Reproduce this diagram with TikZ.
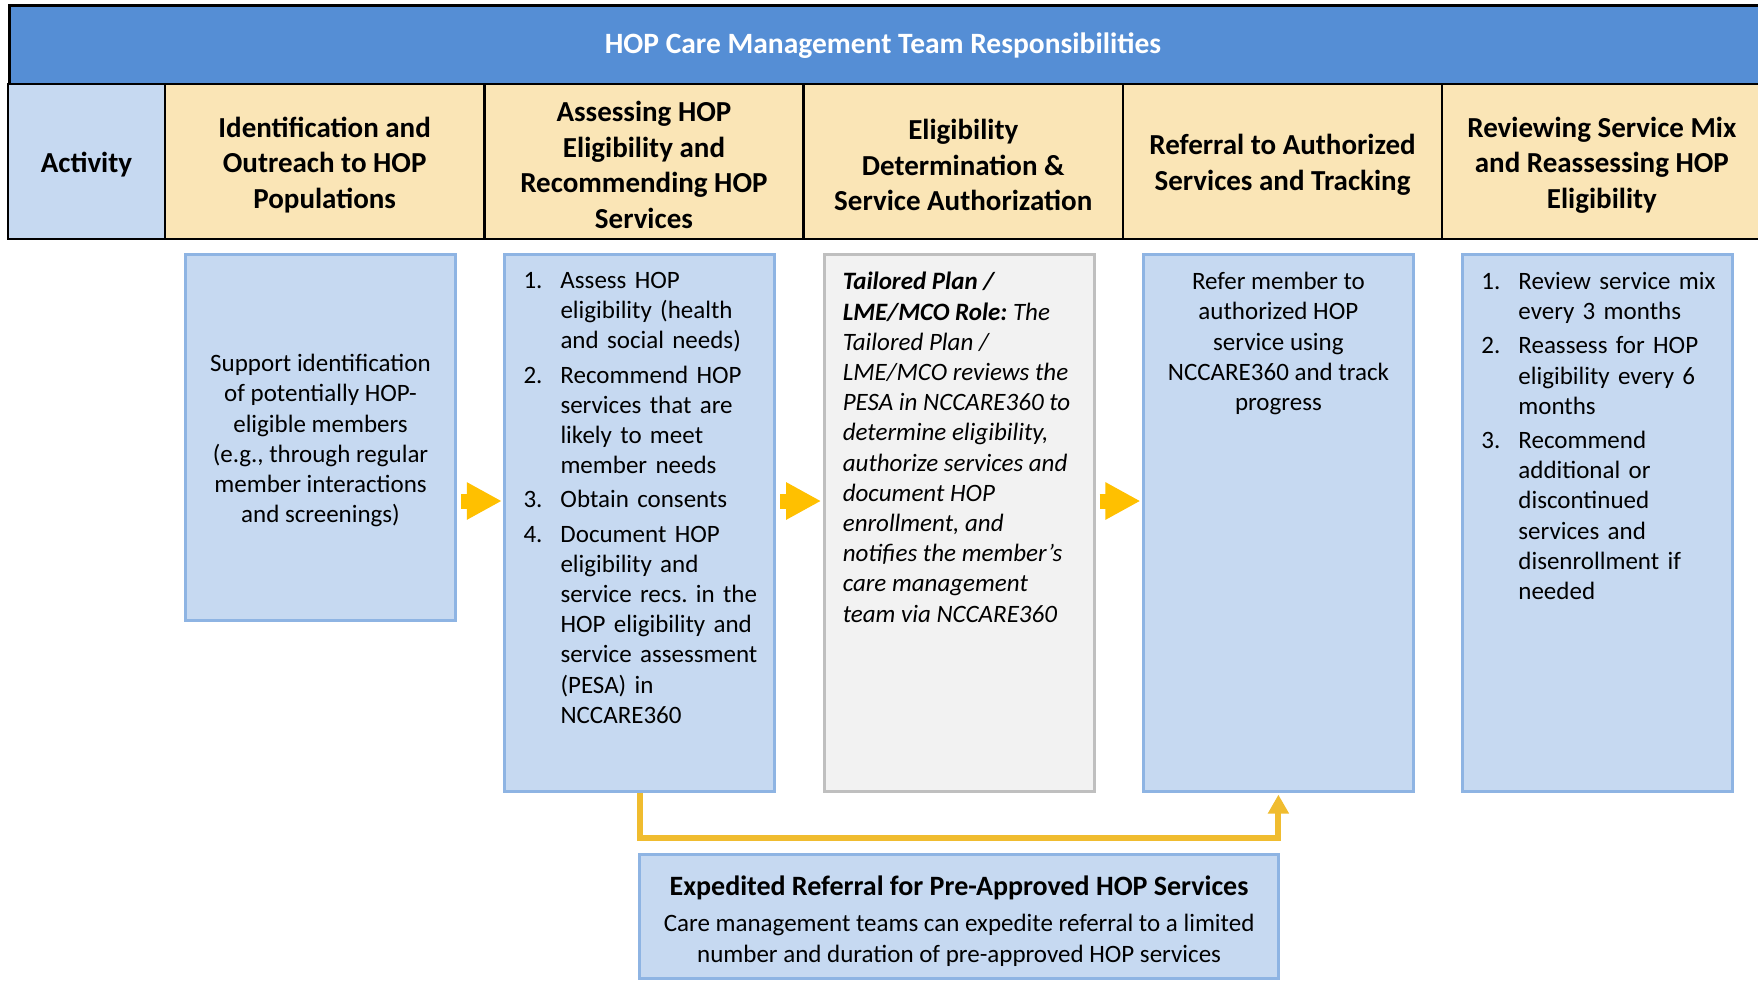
\documentclass[tikz,border=0pt]{standalone}
\usepackage{fontspec}
\setmainfont{Carlito}
\usetikzlibrary{arrows.meta,calc}
\definecolor{titleblue}{HTML}{558ED5}
\definecolor{lightblue}{HTML}{C6D9F1}
\definecolor{boxborder}{HTML}{8EB4E3}
\definecolor{hdryellow}{HTML}{FAE5B6}
\definecolor{graybox}{HTML}{F2F2F2}
\definecolor{grayborder}{HTML}{BFBFBF}
\definecolor{arrowyellow}{HTML}{FFC000}
\definecolor{elbowyellow}{HTML}{F0BC2F}
\newcommand{\hdrfont}{\fontsize{29}{35.5}\selectfont\bfseries}
\newcommand{\bodyfont}{\fontsize{25}{30.2}\selectfont\frenchspacing}
\newcommand{\litem}[2]{\noindent\hangindent=37pt\hangafter=1\makebox[37pt][l]{#1}#2\par\vspace{4pt}}
\tikzset{
  hdrcell/.style={draw=black, line width=2.5pt, fill=hdryellow, minimum width=319.3pt, minimum height=155pt, inner sep=0pt},
  actcell/.style={draw=black, line width=2.5pt, fill=lightblue, minimum width=157pt, minimum height=155pt, inner sep=0pt},
  hdrtext/.style={inner sep=0pt, align=center, font=\hdrfont},
  bluebox/.style={draw=boxborder, line width=3pt, fill=lightblue, minimum width=270pt, inner sep=0pt},
  greybox/.style={draw=grayborder, line width=3pt, fill=graybox, minimum width=270pt, inner sep=0pt},
  bodytext/.style={inner sep=0pt, font=\bodyfont},
  blockarrow/.style={draw=arrowyellow, line width=15pt, -{Triangle[length=35pt,width=35pt]}},
  elbow/.style={draw=elbowyellow, line width=6pt, -{Triangle[length=19pt,width=20pt]}}
}
\begin{document}
\begin{tikzpicture}[x=1pt,y=-1pt]
\clip (0,0) rectangle (1758,980);
\fill[white] (0,0) rectangle (1758,980);
% title bar
\node[draw=black, line width=2.5pt, fill=titleblue, minimum width=1770pt, minimum height=80pt, inner sep=0pt, anchor=north west] (title) at (8,4) {};
\node[inner sep=0pt, text=white, font=\fontsize{29.5}{34}\selectfont\bfseries] (titlelabel) at (883,46) {HOP Care Management Team Responsibilities};
% header row
\node[actcell] (act) at (86.5,161.5) {};
\node[hdrcell] (h1) at (324.65,161.5) {};
\node[hdrcell] (h2) at (643.95,161.5) {};
\node[hdrcell] (h3) at (963.25,161.5) {};
\node[hdrcell] (h4) at (1282.55,161.5) {};
\node[hdrcell] (h5) at (1601.85,161.5) {};
\node[hdrtext] (actl) at ($(act.center)+(0,3.5)$) {Activity};
\node[hdrtext] (h1l) at ($(h1.center)+(0,3.5)$) {Identification and\\Outreach to HOP\\Populations};
\node[hdrtext] (h2l) at ($(h2.center)+(0,3.5)$) {Assessing HOP\\Eligibility and\\Recommending HOP\\Services};
\node[hdrtext] (h3l) at ($(h3.center)+(0,3.5)$) {Eligibility\\Determination \&\\Service Authorization};
\node[hdrtext] (h4l) at ($(h4.center)+(0,3.5)$) {Referral to Authorized\\Services and Tracking};
\node[hdrtext] (h5l) at ($(h5.center)+(0,3.5)$) {Reviewing Service Mix\\and Reassessing HOP\\Eligibility};
% boxes
\node[bluebox, minimum height=365.5pt] (b1) at (320.5,437.25) {};
\node[bluebox, minimum height=537pt] (b2) at (639.8,523.1) {};
\node[greybox, minimum height=537pt] (b3) at (959.1,523.1) {};
\node[bluebox, minimum height=537pt] (b4) at (1278.4,523.1) {};
\node[bluebox, minimum height=537pt] (b5) at (1597.7,523.1) {};
\node[bluebox, minimum width=638.6pt, minimum height=124pt] (b6) at (959.1,916) {};
% box texts
\node[bodytext, align=center] (t1) at ($(b1.center)+(0,3.5)$) {Support identification\\of potentially HOP-\\eligible members\\(e.g., through regular\\member interactions\\and screenings)};
\node[bodytext, anchor=north west, text width=250pt, align=left] (t2) at ($(b2.north west)+(20,19)$) {%
\litem{1.}{Assess HOP\newline eligibility (health\newline and social needs)}%
\litem{2.}{Recommend HOP\newline services that are\newline likely to meet\newline member needs}%
\litem{3.}{Obtain consents}%
\litem{4.}{Document HOP\newline eligibility and\newline service recs. in the\newline HOP eligibility and\newline service assessment\newline (PESA) in\newline NCCARE360}};
\node[bodytext, anchor=north west, align=left, font=\bodyfont\itshape] (t3) at ($(b3.north west)+(20,19)$) {\textbf{Tailored Plan /}\\\textbf{LME/MCO Role:} The\\Tailored Plan /\\LME/MCO reviews the\\PESA in NCCARE360 to\\determine eligibility,\\authorize services and\\document HOP\\enrollment, and\\notifies the member’s\\care management\\team via NCCARE360};
\node[bodytext, anchor=north, align=center] (t4) at ($(b4.north)+(0,19)$) {Refer member to\\authorized HOP\\service using\\NCCARE360 and track\\progress};
\node[bodytext, anchor=north west, text width=250pt, align=left] (t5) at ($(b5.north west)+(20,19)$) {%
\litem{1.}{Review service mix\newline every 3 months}%
\litem{2.}{Reassess for HOP\newline eligibility every 6\newline months}%
\litem{3.}{Recommend\newline additional or\newline discontinued\newline services and\newline disenrollment if\newline needed}};
\node[bodytext, align=center] (t6) at ($(b6.center)+(0,5)$) {{\fontsize{28}{32}\selectfont\bfseries Expedited Referral for Pre-Approved HOP Services}\\[6pt]Care management teams can expedite referral to a limited\\number and duration of pre-approved HOP services};
% arrows
\coordinate (ay) at (0,501);
\draw[blockarrow] ([xshift=4pt]b1.east |- ay) -- ([xshift=-1.5pt]b2.west |- ay);
\draw[blockarrow] ([xshift=4pt]b2.east |- ay) -- ([xshift=-1.5pt]b3.west |- ay);
\draw[blockarrow] ([xshift=4pt]b3.east |- ay) -- ([xshift=-1.5pt]b4.west |- ay);
\draw[elbow] (b2.south) -- ++(0,44.5) -| ([yshift=-1.5pt]b4.south);
\end{tikzpicture}
\end{document}
